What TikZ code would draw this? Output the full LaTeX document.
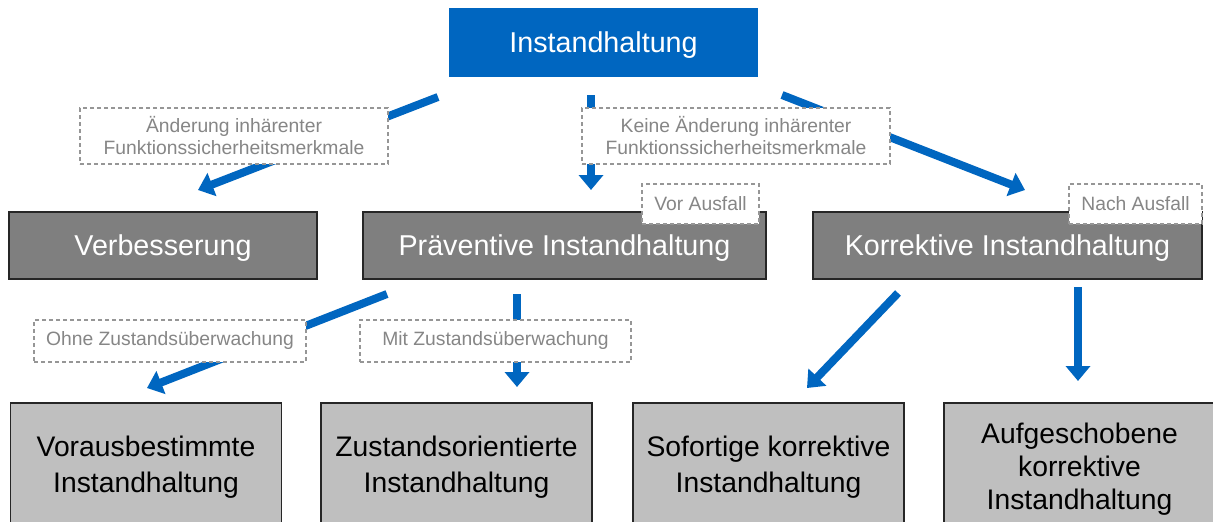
\documentclass[tikz,border=0pt]{standalone}
\usepackage{fontspec}
\setmainfont{Liberation Sans}
\usepackage{tikz}
\usetikzlibrary{arrows.meta}

\definecolor{ihblue}{HTML}{0066C0}
\definecolor{ihdark}{HTML}{7F7F7F}
\definecolor{ihlight}{HTML}{BFBFBF}
\definecolor{ihtext}{HTML}{868686}
\definecolor{ihdash}{HTML}{969696}

\tikzset{
  topbox/.style={fill=ihblue,text=white,font=\fontsize{28.7}{34}\selectfont,
    text height=20.5pt,text depth=0pt,minimum height=69pt,inner sep=0pt},
  midbox/.style={fill=ihdark,draw=black!85,line width=1.2pt,text=white,
    font=\fontsize{28.7}{34}\selectfont,text height=20.5pt,text depth=0pt,
    minimum height=67pt,inner sep=0pt},
  lowbox/.style={fill=ihlight,draw=black!85,line width=1.2pt,align=center,
    font=\fontsize{28.3}{36}\selectfont,minimum height=128pt,minimum width=271pt,inner sep=0pt},
  labelbox/.style={fill=white,draw=ihdash,dashed,dash pattern=on 4pt off 3pt,
    line width=1.5pt,text=ihtext,align=center,font=\fontsize{19.3}{22}\selectfont,inner sep=0pt},
  flow/.style={draw=ihblue,line width=8pt,-{Triangle[width=24pt,length=15pt]}}
}

\begin{document}
\begin{tikzpicture}[x=1pt,y=-1pt]
  \clip (0,0) rectangle (1213,522);
  \fill[white] (0,0) rectangle (1213,522);

  % boxes
  \node[topbox,minimum width=309pt] (root) at (603.5,42.5) {Instandhaltung};
  \node[midbox,minimum width=308pt] (verb) at (163,245.5) {Verbesserung};
  \node[midbox,minimum width=403pt] (prae) at (564.5,245.5) {Präventive Instandhaltung};
  \node[midbox,minimum width=389pt] (korr) at (1007.5,245.5) {Korrektive Instandhaltung};
  \node[lowbox] (voraus) at (146,467) {Vorausbestimmte\\Instandhaltung};
  \node[lowbox] (zustand) at (456.5,467) {Zustandsorientierte\\Instandhaltung};
  \node[lowbox] (sofort) at (768.5,467) {Sofortige korrektive\\Instandhaltung};
  \node[lowbox,font=\fontsize{28.3}{33}\selectfont,minimum height=132pt] (aufg) at (1079.5,469)
    {Aufgeschobene\\korrektive\\Instandhaltung};

  % arrow ends
  \coordinate (rootL) at (438,97);
  \coordinate (rootM) at (591,95);
  \coordinate (rootR) at (782,95);
  \coordinate (verbT) at (198,190);
  \coordinate (praeT) at (591,190);
  \coordinate (korrT) at (1025,190);
  \coordinate (praeL) at (387,294);
  \coordinate (praeM) at (517,294);
  \coordinate (korrL) at (898,293);
  \coordinate (korrM) at (1078,287);
  \coordinate (vorausT) at (147,388);
  \coordinate (zustandT) at (517,387);
  \coordinate (sofortT) at (807,388);
  \coordinate (aufgT) at (1078,381);

  \draw[flow] (rootL) -- (verbT);
  \draw[flow] (rootM) -- (praeT);
  \draw[flow] (rootR) -- (korrT);
  \draw[flow] (praeL) -- (vorausT);
  \draw[flow] (praeM) -- (zustandT);
  \draw[flow] (korrL) -- (sofortT);
  \draw[flow] (korrM) -- (aufgT);

  % labels
  \node[labelbox,minimum width=308pt,minimum height=56pt] (laend) at (234,136)
    {Änderung inhärenter\\Funktionssicherheitsmerkmale};
  \node[labelbox,minimum width=308pt,minimum height=56pt] (lkeine) at (736,136)
    {Keine Änderung inhärenter\\Funktionssicherheitsmerkmale};
  \node[labelbox,minimum width=117pt,minimum height=40pt] (lvor) at (700.5,204) {Vor Ausfall};
  \node[labelbox,minimum width=133pt,minimum height=40pt] (lnach) at (1135.5,204) {Nach Ausfall};
  \node[labelbox,minimum width=272pt,minimum height=42pt] (lohne) at (170,341) {Ohne Zustandsüberwachung};
  \node[labelbox,minimum width=271pt,minimum height=42pt] (lmit) at (495.5,341) {Mit Zustandsüberwachung};
\end{tikzpicture}
\end{document}
